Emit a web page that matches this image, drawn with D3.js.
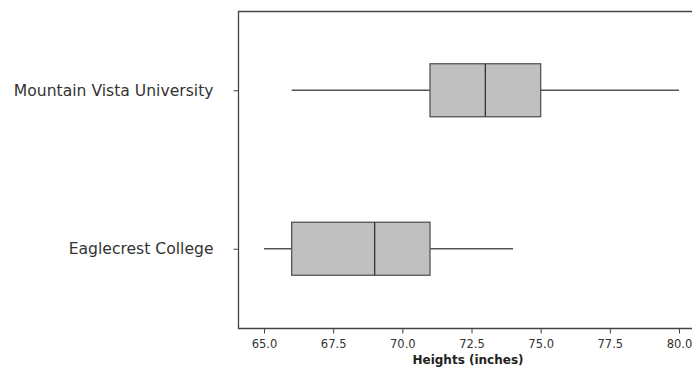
<!DOCTYPE html>
<html><head><meta charset="utf-8">
<script src="https://cdn.jsdelivr.net/npm/d3@7"></script>
<style>body{margin:0;background:#fff}svg{display:block}</style>
</head><body>
<script>
const categories = ["Mountain Vista University", "Eaglecrest College"];
const mins    = [66, 65];
const q1s     = [71, 66];
const medians = [73, 69];
const q3s     = [75, 71];
const maxs    = [80, 74];
const xTicks  = [65.0, 67.5, 70.0, 72.5, 75.0, 77.5, 80.0];
const xTitle  = "Heights (inches)";

(function () {
const W = 692, H = 369;
const mLeft = 238, mTop = 11, mBottom = 328, mRight = 692;
const svg = d3.select("body").append("svg").attr("width", W).attr("height", H);

const x = d3.scaleLinear().domain([64.06, 80.47]).range([mLeft, mRight]);
const y = d3.scalePoint().domain(categories).range([mTop, mBottom]).padding(0.5);

const data = categories.map((c, i) => ({c, min: mins[i], q1: q1s[i], med: medians[i], q3: q3s[i], max: maxs[i]}));
const boxH = 53;

const g = svg.append("g");
g.selectAll(".wh").data(data).join("line")
  .attr("x1", d => x(d.min)).attr("x2", d => x(d.max))
  .attr("y1", d => y(d.c)).attr("y2", d => y(d.c))
  .attr("stroke", "#555").attr("stroke-width", 1.3);
g.selectAll(".bx").data(data).join("rect")
  .attr("x", d => x(d.q1)).attr("width", d => x(d.q3) - x(d.q1))
  .attr("y", d => y(d.c) - boxH / 2).attr("height", boxH)
  .attr("fill", "#c0c0c0").attr("stroke", "#555").attr("stroke-width", 1.3);
g.selectAll(".md").data(data).join("line")
  .attr("x1", d => x(d.med)).attr("x2", d => x(d.med))
  .attr("y1", d => y(d.c) - boxH / 2).attr("y2", d => y(d.c) + boxH / 2)
  .attr("stroke", "#333").attr("stroke-width", 1.3);

svg.append("path")
  .attr("d", `M${mRight},${mTop + 0.5}H${mLeft + 0.5}V${mBottom + 0.5}H${mRight}`)
  .attr("fill", "none").attr("stroke", "#444").attr("stroke-width", 1.3);

const xa = svg.append("g").attr("transform", `translate(0,${mBottom + 0.5})`)
  .call(d3.axisBottom(x).tickValues(xTicks).tickFormat(d3.format(".1f")).tickSize(5).tickSizeOuter(0));
xa.select(".domain").remove();
xa.selectAll(".tick line").attr("stroke", "#444");
xa.selectAll(".tick text").attr("fill", "#333").attr("font-family", "DejaVu Sans, Verdana, sans-serif")
  .attr("font-size", 11.5).attr("dy", null).attr("y", 19.5);

const ya = svg.append("g").attr("transform", `translate(${mLeft + 0.5},0)`)
  .call(d3.axisLeft(y).tickSize(5).tickSizeOuter(0).tickPadding(20));
ya.select(".domain").remove();
ya.selectAll(".tick line").attr("stroke", "#444");
ya.selectAll(".tick text").attr("fill", "#333").attr("font-family", "DejaVu Sans, Verdana, sans-serif")
  .attr("font-size", 15.6);

svg.append("text").attr("x", 468).attr("y", 364).attr("text-anchor", "middle")
  .attr("font-family", "DejaVu Sans, Verdana, sans-serif").attr("font-weight", "bold")
  .attr("font-size", 12).attr("fill", "#222").text(xTitle);
})();
</script>
</body></html>
